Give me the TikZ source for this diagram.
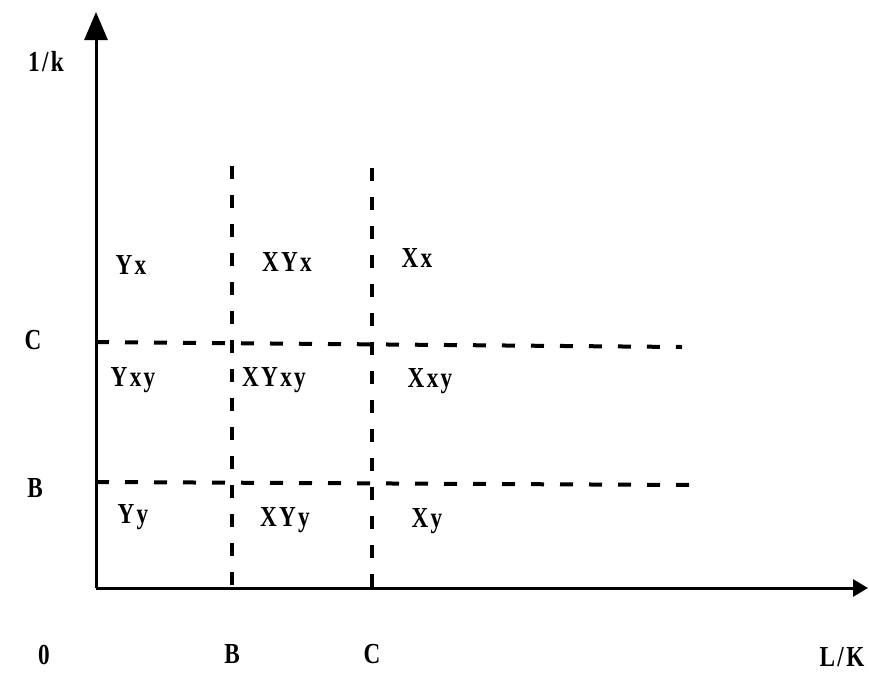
\documentclass[tikz,border=0pt]{standalone}
\usepackage{fontspec}
\setmainfont{Liberation Serif}[FakeStretch=0.8,LetterSpace=8]
\usetikzlibrary{arrows.meta}
\tikzset{
  axisline/.style={line width=3pt},
  divline/.style={line width=4pt, dash pattern=on 13pt off 16pt},
  lbl/.style={font=\fontsize{29}{29}\selectfont\bfseries, inner sep=0pt},
}
\begin{document}
\begin{tikzpicture}[x=1pt,y=-1pt]
\useasboundingbox (0,0) rectangle (869,672);
% axes
\coordinate (O) at (96,588);
\coordinate (Ytop) at (96,12);
\coordinate (Xend) at (868,588);
\draw[axisline,-{Triangle[length=28pt,width=23pt]}] (O) -- (Ytop);
\draw[axisline,-{Triangle[length=15pt,width=17pt]}] (O) -- (Xend);
% dashed division lines
\coordinate (Bv1) at (232,166);
\coordinate (Bv2) at (232,590);
\coordinate (Cv1) at (372,168);
\coordinate (Cv2) at (372,590);
\coordinate (Ch1) at (96,342);
\coordinate (Ch2) at (682,347);
\coordinate (Bh1) at (96,482);
\coordinate (Bh2) at (692,485);
\draw[divline] (Bv1) -- (Bv2);
\draw[divline] (Cv1) -- (Cv2);
\draw[divline] (Ch1) -- (Ch2);
\draw[divline] (Bh1) -- (Bh2);
% axis labels
\node[lbl] (ylab) at (46,62) {1/k};
\node[lbl] (cy) at (33,340) {C};
\node[lbl] (by) at (35,488) {B};
\node[lbl] (zero) at (44,655) {0};
\node[lbl] (bx) at (232,654) {B};
\node[lbl] (cx) at (372,654) {C};
\node[lbl] (xlab) at (842,657) {L/K};
% region labels
\node[lbl] (r11) at (131,265) {Yx};
\node[lbl] (r12) at (287,262) {XYx};
\node[lbl] (r13) at (417,258) {Xx};
\node[lbl] (r21) at (133,380) {Yxy};
\node[lbl] (r22) at (274,380) {XYxy};
\node[lbl] (r23) at (430,381) {Xxy};
\node[lbl] (r31) at (133,517) {Yy};
\node[lbl] (r32) at (285,520) {XYy};
\node[lbl] (r33) at (427,521) {Xy};
\end{tikzpicture}
\end{document}
